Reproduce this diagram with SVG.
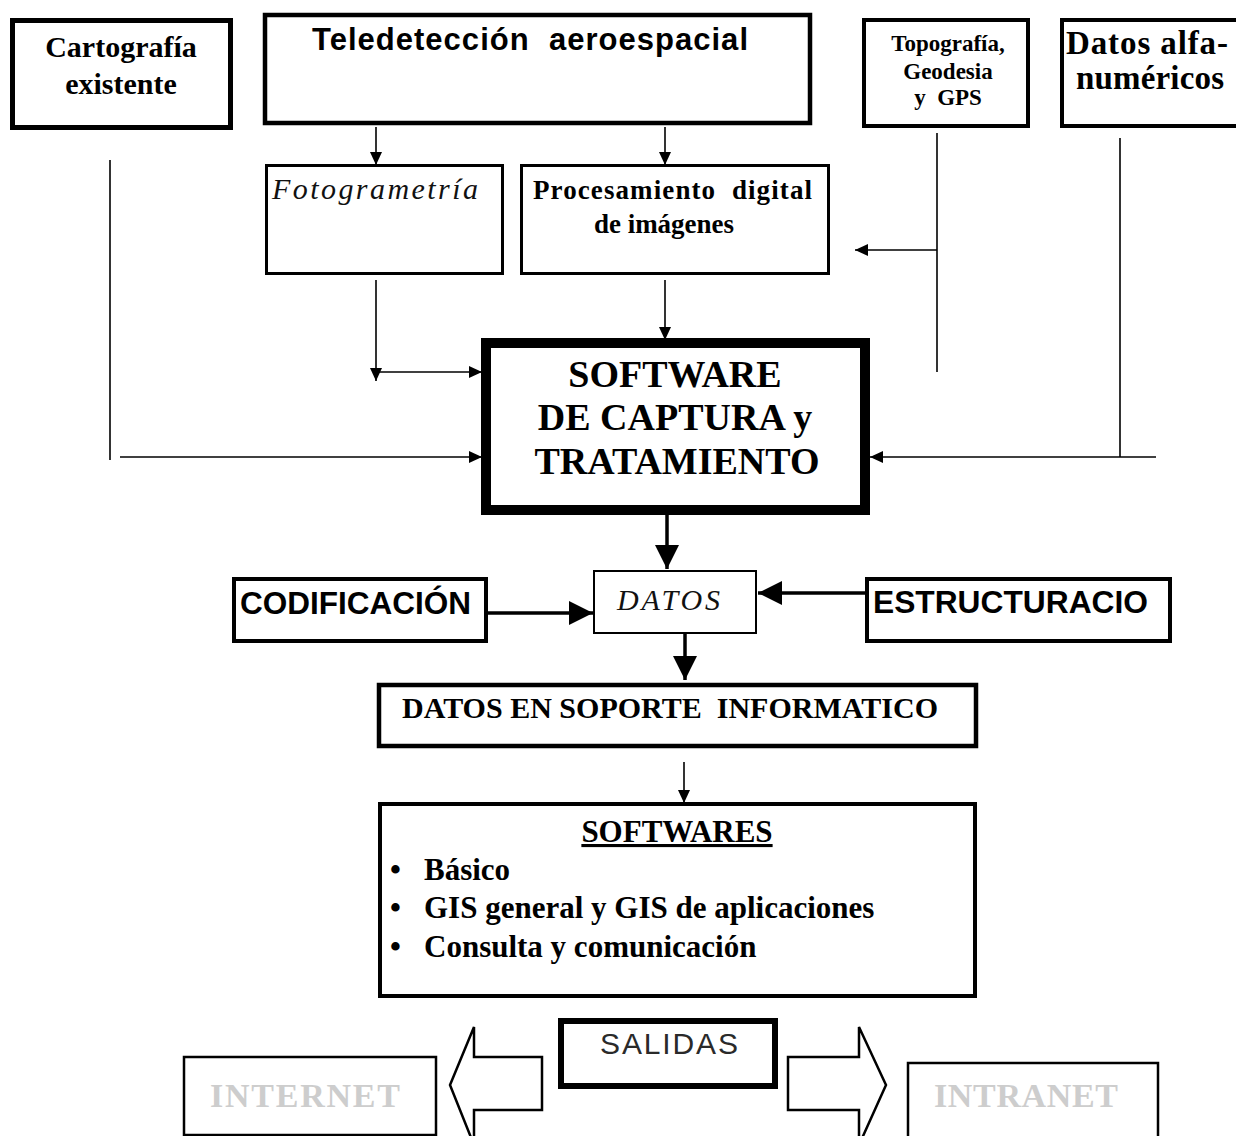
<svg xmlns="http://www.w3.org/2000/svg" width="1236" height="1136" viewBox="0 0 1236 1136">
  <style>
    .box { fill: #fff; stroke: #000; }
    .serif { font-family: "Liberation Serif", "Times New Roman", serif; font-weight: bold; fill: #000; }
    .sans { font-family: "Liberation Sans", Arial, sans-serif; font-weight: bold; fill: #000; }
    .ital { font-family: "Liberation Serif", "Times New Roman", serif; font-style: italic; fill: #111; }
    .ghost { font-family: "Liberation Serif", "Times New Roman", serif; font-weight: bold; fill: #cdcdcd; }
    .thin { stroke: #000; stroke-width: 1.6; fill: none; }
    .thick { stroke: #000; stroke-width: 3.5; fill: none; }
    .block { fill: #fff; stroke: #000; stroke-width: 2.5; stroke-linejoin: miter; }
  </style>
  <defs>
    <marker id="tip" markerUnits="userSpaceOnUse" markerWidth="13" markerHeight="12" refX="13" refY="6" orient="auto">
      <path d="M0,0 L13,6 L0,12 z" fill="#000"/>
    </marker>
    <marker id="bigtip" markerUnits="userSpaceOnUse" markerWidth="24" markerHeight="24" refX="24" refY="12" orient="auto">
      <path d="M0,0 L24,12 L0,24 z" fill="#000"/>
    </marker>
  </defs>

  <rect width="1236" height="1136" fill="#fff"/>

  <!-- connectors -->
  <g id="connectors">
    <line class="thin" x1="376" y1="127" x2="376" y2="165" marker-end="url(#tip)"/>
    <line class="thin" x1="665" y1="127" x2="665" y2="165" marker-end="url(#tip)"/>
    <line class="thin" x1="376" y1="280" x2="376" y2="381" marker-end="url(#tip)"/>
    <line class="thin" x1="376" y1="372" x2="482" y2="372" marker-end="url(#tip)"/>
    <line class="thin" x1="665" y1="280" x2="665" y2="340" marker-end="url(#tip)"/>
    <line class="thin" x1="110" y1="160" x2="110" y2="460"/>
    <line class="thin" x1="120" y1="457" x2="482" y2="457" marker-end="url(#tip)"/>
    <line class="thin" x1="937" y1="133" x2="937" y2="372"/>
    <line class="thin" x1="937" y1="250" x2="855" y2="250" marker-end="url(#tip)"/>
    <line class="thin" x1="1120" y1="138" x2="1120" y2="457"/>
    <line class="thin" x1="1156" y1="457" x2="870" y2="457" marker-end="url(#tip)"/>
    <line class="thick" x1="667" y1="515" x2="667" y2="569" marker-end="url(#bigtip)"/>
    <line class="thick" x1="488" y1="613" x2="593" y2="613" marker-end="url(#bigtip)"/>
    <line class="thick" x1="866" y1="593" x2="758" y2="593" marker-end="url(#bigtip)"/>
    <line class="thick" x1="685" y1="634" x2="685" y2="680" marker-end="url(#bigtip)"/>
    <line class="thin" x1="684" y1="762" x2="684" y2="803" marker-end="url(#tip)"/>
  </g>

  <!-- sources -->
  <g id="cartografia">
    <rect class="box" x="12.5" y="20.5" width="218" height="107" stroke-width="5"/>
    <text class="serif" font-size="30" text-anchor="middle" x="121" y="57">Cartografía</text>
    <text class="serif" font-size="30" text-anchor="middle" x="121" y="94">existente</text>
  </g>

  <g id="teledeteccion">
    <rect class="box" x="265" y="15" width="545" height="108" stroke-width="4.5"/>
    <text class="sans" font-size="31" x="312" y="50" textLength="436" lengthAdjust="spacing" xml:space="preserve">Teledetección  aeroespacial</text>
  </g>

  <g id="fotogrametria">
    <rect class="box" x="266.5" y="165.5" width="236" height="108" stroke-width="3"/>
    <text class="ital" font-size="30" x="272" y="199" textLength="206" lengthAdjust="spacing">Fotogrametría</text>
  </g>

  <g id="procesamiento">
    <rect class="box" x="521.5" y="165.5" width="307" height="108" stroke-width="3"/>
    <text class="serif" font-size="27" x="533" y="199" textLength="279" lengthAdjust="spacing" xml:space="preserve">Procesamiento  digital</text>
    <text class="serif" font-size="27" text-anchor="middle" x="664" y="233">de imágenes</text>
  </g>

  <g id="topografia">
    <rect class="box" x="864" y="20" width="164" height="106" stroke-width="4"/>
    <text class="serif" font-size="23" text-anchor="middle" x="948" y="51">Topografía,</text>
    <text class="serif" font-size="23" text-anchor="middle" x="948" y="79">Geodesia</text>
    <text class="serif" font-size="23" text-anchor="middle" x="948" y="105" xml:space="preserve">y  GPS</text>
  </g>

  <g id="datos-alfanumericos">
    <rect class="box" x="1062" y="20" width="190" height="106" stroke-width="4"/>
    <text class="serif" font-size="33" x="1066" y="54" textLength="162" lengthAdjust="spacing">Datos alfa-</text>
    <text class="serif" font-size="33" x="1076" y="89" textLength="148" lengthAdjust="spacing">numéricos</text>
  </g>

  <!-- capture software -->
  <g id="software-captura">
    <rect class="box" x="486" y="343" width="379" height="167" stroke-width="10"/>
    <text class="serif" font-size="38" text-anchor="middle" x="675" y="387">SOFTWARE</text>
    <text class="serif" font-size="38" text-anchor="middle" x="675" y="430">DE CAPTURA y</text>
    <text class="serif" font-size="38" text-anchor="middle" x="677" y="474">TRATAMIENTO</text>
  </g>

  <g id="codificacion">
    <rect class="box" x="234" y="579" width="252" height="62" stroke-width="4"/>
    <text class="sans" font-size="31" x="240" y="614" textLength="231" lengthAdjust="spacingAndGlyphs">CODIFICACIÓN</text>
  </g>

  <g id="datos">
    <rect class="box" x="594" y="571" width="162" height="62" stroke-width="2"/>
    <text class="ital" font-size="30" x="617" y="610" textLength="103" lengthAdjust="spacing">DATOS</text>
  </g>

  <g id="estructuracion">
    <rect class="box" x="867" y="579" width="303" height="62" stroke-width="4"/>
    <text class="sans" font-size="31" x="873" y="613" textLength="275" lengthAdjust="spacingAndGlyphs">ESTRUCTURACIO</text>
  </g>

  <g id="datos-soporte">
    <rect class="box" x="379" y="685" width="597" height="61" stroke-width="4.5"/>
    <text class="serif" font-size="30" x="402" y="718" textLength="536" lengthAdjust="spacing" xml:space="preserve">DATOS EN SOPORTE  INFORMATICO</text>
  </g>

  <g id="softwares">
    <rect class="box" x="380" y="804" width="595" height="192" stroke-width="4"/>
    <text class="serif" font-size="31" text-anchor="middle" x="677" y="842" text-decoration="underline">SOFTWARES</text>
    <text class="serif" font-size="31" x="390" y="880">•</text>
    <text class="serif" font-size="31" x="424" y="880">Básico</text>
    <text class="serif" font-size="31" x="390" y="918">•</text>
    <text class="serif" font-size="31" x="424" y="918">GIS general y GIS de aplicaciones</text>
    <text class="serif" font-size="31" x="390" y="957">•</text>
    <text class="serif" font-size="31" x="424" y="957">Consulta y comunicación</text>
  </g>

  <!-- outputs -->
  <g id="salidas">
    <rect class="box" x="561" y="1021" width="214" height="65" stroke-width="6"/>
    <text font-family="Liberation Sans, Arial, sans-serif" font-size="30" fill="#2a2a2a" x="600" y="1054" textLength="138" lengthAdjust="spacing">SALIDAS</text>
  </g>

  <g id="flecha-internet">
    <polygon class="block" points="542,1057 474,1057 474,1027 450,1085 474,1145 474,1110 542,1110"/>
  </g>
  <g id="flecha-intranet">
    <polygon class="block" points="788,1057 859,1057 859,1027 886,1085 859,1145 859,1110 788,1110"/>
  </g>

  <g id="internet">
    <rect class="box" x="184" y="1057" width="252" height="78" stroke-width="2.5"/>
    <text class="ghost" font-size="34" x="210" y="1107" textLength="190" lengthAdjust="spacing">INTERNET</text>
  </g>

  <g id="intranet">
    <rect class="box" x="908" y="1063" width="250" height="78" stroke-width="2.5"/>
    <text class="ghost" font-size="34" x="934" y="1107" textLength="184" lengthAdjust="spacing">INTRANET</text>
  </g>
</svg>
